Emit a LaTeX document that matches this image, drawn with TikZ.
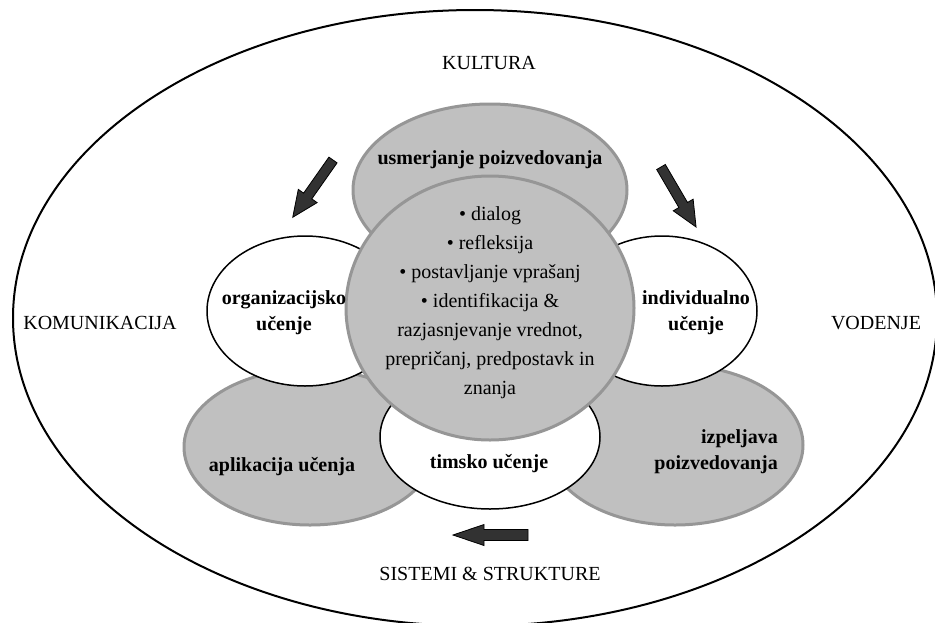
\documentclass[tikz,border=0pt]{standalone}
\usepackage{fontspec}
\setmainfont{Liberation Serif}
\definecolor{petal}{RGB}{192,192,192}
\definecolor{petaledge}{RGB}{150,150,150}
\definecolor{arrowfill}{RGB}{50,50,50}
\begin{document}
\begin{tikzpicture}[x=1pt,y=-1pt,
  petalfill/.style={fill=petal, draw=petaledge, line width=3pt},
  whitefill/.style={fill=white, draw=black, line width=1.5pt},
  petaltext/.style={font=\fontsize{20}{26}\selectfont\bfseries, align=center, inner sep=0pt},
  context/.style={font=\fontsize{20}{24}\selectfont, inner sep=0pt},
  blockarrow/.style={fill=arrowfill, draw=black, line width=0.8pt, line join=miter}]
\useasboundingbox (0,0) rectangle (935,622);

% outer frame: the organisational context
\draw[line width=2pt] (475,318) ellipse [x radius=462pt, y radius=308pt];

% lower petals
\path[petalfill] (310,447) ellipse [x radius=126pt, y radius=78pt];
\path[petalfill] (675,445) ellipse [x radius=128pt, y radius=80pt];
% upper petal
\path[petalfill] (490,190) ellipse [x radius=137pt, y radius=86pt];
% learning levels
\path[whitefill] (305,311) ellipse [x radius=98pt, y radius=75pt];
\path[whitefill] (662,311) ellipse [x radius=95pt, y radius=75pt];
\path[whitefill] (490,437) ellipse [x radius=110pt, y radius=72pt];
% core
\path[petalfill] (490,308) ellipse [x radius=144pt, y radius=132pt];

% petal labels
\node[petaltext] (inquiry) at (490,160) {usmerjanje poizvedovanja};
\node[petaltext] (org) at (284,313) {organizacijsko\\učenje};
\node[petaltext] (ind) at (696,313) {individualno\\učenje};
\node[petaltext] (app) at (282,467) {aplikacija učenja};
\node[petaltext] (team) at (489,464) {timsko učenje};
\node[petaltext, align=right, anchor=east] (conduct) at (778,452) {izpeljava\\poizvedovanja};

% core text
\node[font=\fontsize{20}{29}\selectfont, align=center, inner sep=0pt] (core) at (490,303)
  {• dialog\\• refleksija\\• postavljanje vprašanj\\• identifikacija \&\\razjasnjevanje vrednot,\\prepričanj, predpostavk in\\znanja};

% context labels
\node[context] (culture) at (489,63) {KULTURA};
\node[context] (comm) at (100,323) {KOMUNIKACIJA};
\node[context] (lead) at (876,323) {VODENJE};
\node[context] (sys) at (490,574) {SISTEMI \& STRUKTURE};

% flow arrows
\begin{scope}[shift={(333,160)}, rotate=234.9]
  \draw[blockarrow] (0,-5) -- (44,-5) -- (44,-11.5) -- (70,0) -- (44,11.5) -- (44,5) -- (0,5) -- cycle;
\end{scope}
\begin{scope}[shift={(661,167)}, rotate=-59.7]
  \draw[blockarrow] (0,-5) -- (44,-5) -- (44,-11.5) -- (69.5,0) -- (44,11.5) -- (44,5) -- (0,5) -- cycle;
\end{scope}
\begin{scope}[shift={(528,535)}, rotate=180]
  \draw[blockarrow] (0,-5.5) -- (44,-5.5) -- (44,-10.5) -- (75,0) -- (44,10.5) -- (44,5.5) -- (0,5.5) -- cycle;
\end{scope}
\end{tikzpicture}
\end{document}
